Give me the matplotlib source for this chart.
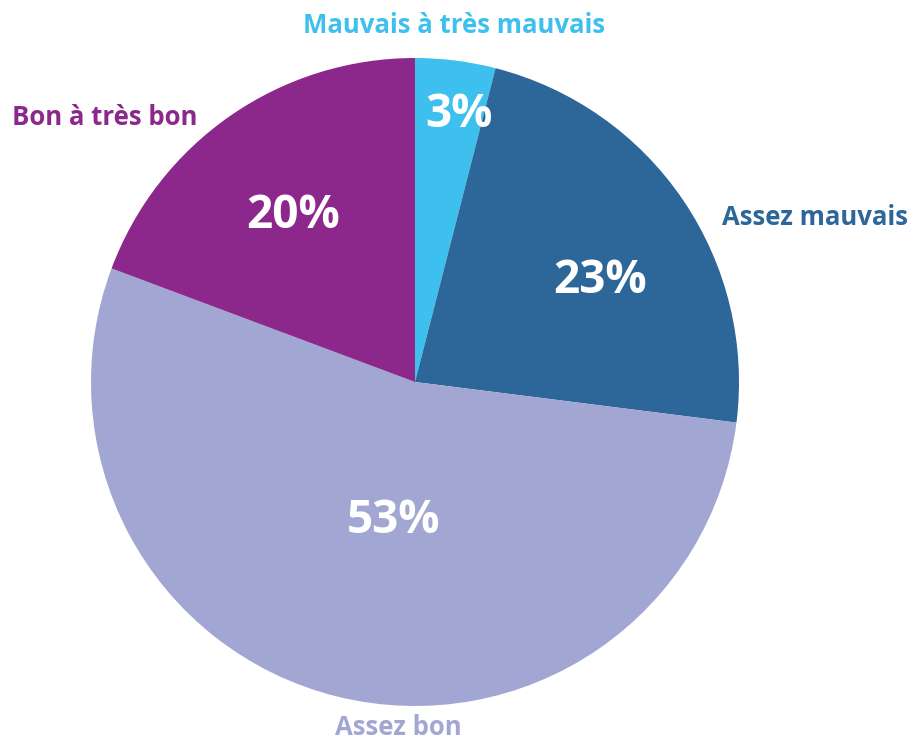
import matplotlib
matplotlib.use('Agg')
import matplotlib.pyplot as plt

plt.rcParams['font.family'] = ['Open Sans', 'DejaVu Sans']

# slices, clockwise from 12 o'clock
categories = ['Mauvais à très mauvais', 'Assez mauvais', 'Assez bon', 'Bon à très bon']
shares = [4.0, 23.0, 53.7, 19.3]
pct_labels = ['3%', '23%', '53%', '20%']
colors = ['#3EC0EF', '#2D6699', '#A2A6D3', '#8C278B']

W, H = 912, 744
fig = plt.figure(figsize=(W / 100, H / 100), dpi=100)
ax = fig.add_axes([0, 0, 1, 1])

cx, cy, R = 415, H - 382, 324
wedges, _ = ax.pie(shares, colors=colors, startangle=90, counterclock=False,
                   center=(cx, cy), radius=R, frame=True,
                   wedgeprops=dict(linewidth=0))
ax.set_xlim(0, W)
ax.set_ylim(0, H)
ax.set_aspect('equal')
ax.axis('off')

# percentage labels inside the slices (x centre, baseline in pixels from top)
pct_pos = [(459, 127), (600, 293), (394, 533), (293, 228)]
for lab, (x, y) in zip(pct_labels, pct_pos):
    ax.text(x, H - y, lab, ha='center', va='baseline', color='white',
            fontsize=33, fontweight='bold')

# category labels around the pie
label_pos = [(454, 33), (815, 225), (398, 735), (105, 125)]
for name, col, (x, y) in zip(categories, colors, label_pos):
    ax.text(x, H - y, name, ha='center', va='baseline', color=col,
            fontsize=18.5, fontweight='bold')

fig.savefig('out.png', dpi=100)
plt.close()
